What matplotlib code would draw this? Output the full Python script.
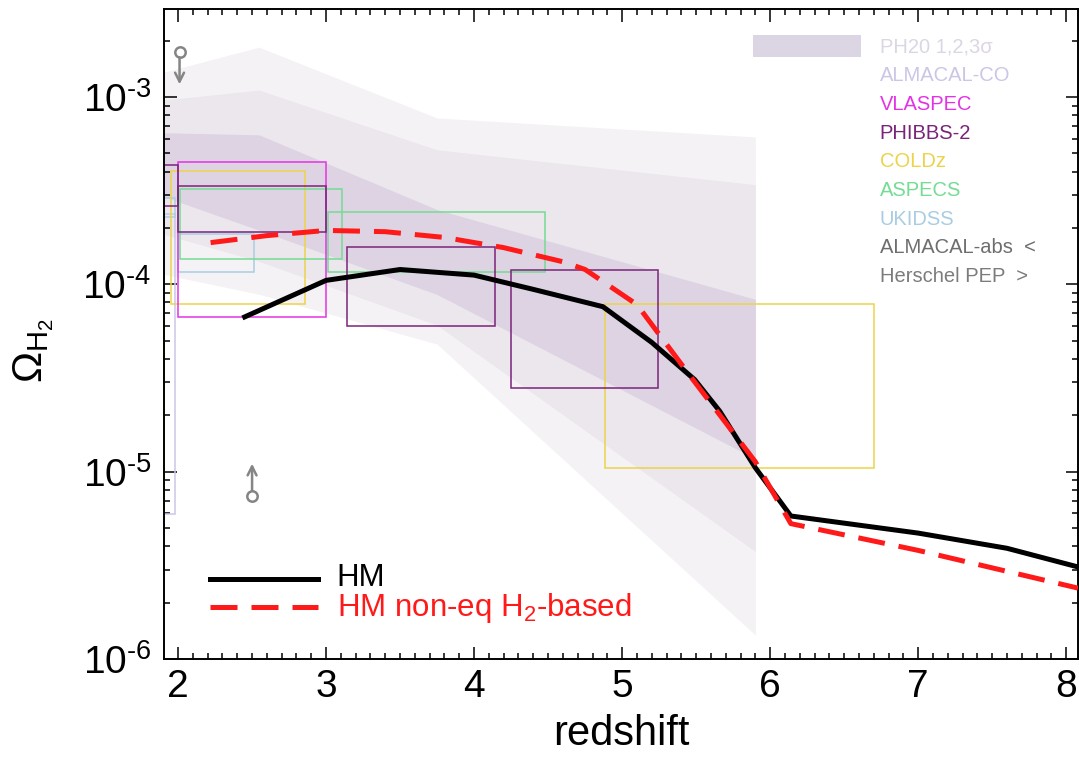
import matplotlib
matplotlib.use('Agg')
import matplotlib.pyplot as plt
from matplotlib.patches import Rectangle
import numpy as np

plt.rcParams['font.family'] = ['Liberation Sans', 'DejaVu Sans']
plt.rcParams['mathtext.fontset'] = 'custom'
plt.rcParams['mathtext.rm'] = 'Liberation Sans'
plt.rcParams['mathtext.it'] = 'Liberation Sans:italic'
plt.rcParams['mathtext.bf'] = 'Liberation Sans:bold'

# ---------------- data ----------------
hm_z = [2.45, 3.0, 3.5, 4.0, 4.4, 4.87, 5.2, 5.49, 5.66, 5.9, 6.14, 7.0, 7.6, 8.08]
hm_omega = [6.7e-5, 1.05e-4, 1.2e-4, 1.12e-4, 9.4e-5, 7.6e-5, 4.9e-5, 3.1e-5, 2.1e-5,
            1.05e-5, 5.8e-6, 4.7e-6, 3.9e-6, 3.1e-6]

noneq_z = [2.22, 2.6, 3.0, 3.4, 3.8, 4.2, 4.6, 4.75, 5.1, 5.46, 5.9, 6.14, 7.0, 8.08]
noneq_omega = [1.67e-4, 1.82e-4, 1.94e-4, 1.91e-4, 1.78e-4, 1.57e-4, 1.32e-4, 1.20e-4,
               7.8e-5, 3.24e-5, 1.13e-5, 5.28e-6, 3.8e-6, 2.39e-6]

# PH20 confidence bands (log10 Omega) at band nodes
band_z = [1.905, 2.547, 3.75, 5.90]
s3_hi = [-2.867, -2.734, -3.112, -3.213]
s2_hi = [-3.016, -2.963, -3.282, -3.468]
s1_hi = [-3.191, -3.202, -3.601, -4.080]
s1_lo = [-3.532, -3.711, -4.054, -4.931]
s2_lo = [-3.733, -3.877, -4.218, -5.426]
s3_lo = [-3.947, -4.053, -4.319, -5.872]

# observational boxes: z0, z1, Omega_lo, Omega_hi
almacal_co_z0 = [1.80]; almacal_co_z1 = [1.98]
almacal_co_lo = [5.98e-6]; almacal_co_hi = [2.36e-4]
vlaspec_z0 = [2.00]; vlaspec_z1 = [3.00]
vlaspec_lo = [6.66e-5]; vlaspec_hi = [4.5e-4]
phibbs_z0 = [1.80, 2.00, 3.14, 4.25]; phibbs_z1 = [2.00, 3.00, 4.14, 5.24]
phibbs_lo = [2.63e-4, 1.91e-4, 5.98e-5, 2.8e-5]; phibbs_hi = [4.35e-4, 3.36e-4, 1.59e-4, 1.2e-4]
coldz_z0 = [1.95, 4.885]; coldz_z1 = [2.86, 6.70]
coldz_lo = [7.9e-5, 1.05e-5]; coldz_hi = [4.04e-4, 7.9e-5]
aspecs_z0 = [2.01, 3.01]; aspecs_z1 = [3.11, 4.48]
aspecs_lo = [1.36e-4, 1.16e-4]; aspecs_hi = [3.24e-4, 2.42e-4]
ukidss_z0 = [1.80, 2.00]; ukidss_z1 = [1.98, 2.51]
ukidss_lo = [2.3e-4, 1.17e-4]; ukidss_hi = [2.9e-4, 1.85e-4]

# limits
almacal_abs_z = [2.01]; almacal_abs_omega = [1.73e-3]   # upper limit
herschel_z = [2.50]; herschel_omega = [7.45e-6]          # lower limit

legend_labels = ['PH20 1,2,3σ', 'ALMACAL-CO', 'VLASPEC', 'PHIBBS-2', 'COLDz', 'ASPECS',
                 'UKIDSS', 'ALMACAL-abs  <', 'Herschel PEP  >']

xticks = [2, 3, 4, 5, 6, 7, 8]
yticks = [1e-6, 1e-5, 1e-4, 1e-3]
ytick_labels = [r'$\mathregular{10^{\text{-6}}}$', r'$\mathregular{10^{\text{-5}}}$',
                r'$\mathregular{10^{\text{-4}}}$', r'$\mathregular{10^{\text{-3}}}$']

# ---------------- style ----------------
c_s3 = '#f4f2f5'
c_s2 = '#ebe7ed'
c_s1 = '#ddd3e3'
c_almacal = '#c9c7e6'
c_vla = '#e433e4'
c_phibbs = '#7a237a'
c_coldz = '#ecd34a'
c_aspecs = '#74dc94'
c_ukidss = '#a9cde2'
c_grey = '#858585'
legend_colors = ['#dcd6e4', c_almacal, c_vla, c_phibbs, c_coldz, c_aspecs, c_ukidss,
                 '#6e6e6e', '#7c7c7c']

fig = plt.figure(figsize=(10.79, 7.66), dpi=100)
ax = fig.add_axes([164/1079, 1-659/766, 914/1079, 650/766])
ax.set_yscale('log')
ax.set_xlim(1.905, 8.08)
ax.set_ylim(1e-6, 2.95e-3)

# bands
bz = np.array(band_z)
for lo, hi, c in [(s3_lo, s3_hi, c_s3), (s2_lo, s2_hi, c_s2), (s1_lo, s1_hi, c_s1)]:
    ax.fill_between(bz, 10**np.array(lo), 10**np.array(hi), color=c, lw=0, zorder=1)

def boxes(z0, z1, lo, hi, color):
    for a, b, l, h in zip(z0, z1, lo, hi):
        ax.add_patch(Rectangle((a, l), b - a, h - l, fill=False, edgecolor=color,
                               lw=1.1, zorder=2))

boxes(almacal_co_z0, almacal_co_z1, almacal_co_lo, almacal_co_hi, c_almacal)
boxes(ukidss_z0, ukidss_z1, ukidss_lo, ukidss_hi, c_ukidss)
boxes(coldz_z0, coldz_z1, coldz_lo, coldz_hi, c_coldz)
boxes(aspecs_z0, aspecs_z1, aspecs_lo, aspecs_hi, c_aspecs)
boxes(vlaspec_z0, vlaspec_z1, vlaspec_lo, vlaspec_hi, c_vla)
boxes(phibbs_z0, phibbs_z1, phibbs_lo, phibbs_hi, c_phibbs)

# limits
ax.plot(almacal_abs_z, almacal_abs_omega, 'o', ms=7.5, mfc='white', mec=c_grey, mew=1.8, zorder=4)
for z, o in zip(almacal_abs_z, almacal_abs_omega):
    ax.annotate('', xy=(z, o), xytext=(0, -23), textcoords='offset points',
                arrowprops=dict(arrowstyle='<-', color=c_grey, lw=1.8, shrinkA=0, shrinkB=3.5,
                                mutation_scale=16), zorder=4)
ax.plot(herschel_z, herschel_omega, 'o', ms=7.5, mfc='white', mec=c_grey, mew=1.8, zorder=4)
for z, o in zip(herschel_z, herschel_omega):
    ax.annotate('', xy=(z, o), xytext=(0, 23), textcoords='offset points',
                arrowprops=dict(arrowstyle='<-', color=c_grey, lw=1.8, shrinkA=0, shrinkB=3.5,
                                mutation_scale=16), zorder=4)

# model lines
ax.plot(hm_z, hm_omega, color='black', lw=3.6, zorder=5, solid_joinstyle='miter')
ax.plot(noneq_z, noneq_omega, color='#ff1a1a', lw=3.6, ls=(0, (5.4, 2.8)), zorder=6)

# observational legend (top right)
ax.add_patch(Rectangle((0.644, 0.926), 0.1186, 0.034, transform=ax.transAxes,
                       color=legend_colors[0], lw=0, zorder=3))
for i, (lab, col) in enumerate(zip(legend_labels, legend_colors)):
    ax.text(0.783, 0.9415 - i*0.04415, lab, color=col, fontsize=14.5,
            transform=ax.transAxes, ha='left', va='center', zorder=7)

# model legend (bottom left)
ax.plot([0.0503, 0.1685], [0.123, 0.123], color='black', lw=3.6, transform=ax.transAxes, zorder=7)
ax.plot([0.0503, 0.1685], [0.080, 0.080], color='#ff1a1a', lw=3.6, ls=(0, (5.4, 2.8)),
        transform=ax.transAxes, zorder=7)
ax.text(0.189, 0.125, 'HM', color='black', fontsize=22.5, transform=ax.transAxes,
        ha='left', va='center', zorder=7)
ax.text(0.189, 0.078, r'HM non-eq H$_\mathregular{2}$-based', color='#ff1a1a', fontsize=22.5,
        transform=ax.transAxes, ha='left', va='center', zorder=7)

# axes styling
ax.set_xticks(xticks)
ax.set_xticklabels([str(t) for t in xticks])
ax.xaxis.set_minor_locator(matplotlib.ticker.MultipleLocator(0.1))
ax.set_yticks(yticks)
ax.set_yticklabels(ytick_labels)
ax.yaxis.set_minor_locator(matplotlib.ticker.LogLocator(base=10, subs=np.arange(2, 10)))
ax.yaxis.set_minor_formatter(matplotlib.ticker.NullFormatter())
ax.tick_params(which='both', direction='in', top=True, right=True, width=1.1, labelsize=28)
ax.tick_params(which='major', length=9)
ax.tick_params(which='minor', length=4.5)
ax.tick_params(axis='x', pad=7)
ax.tick_params(axis='y', pad=9)
for s in ax.spines.values():
    s.set_linewidth(1.4)

ax.set_xlabel('redshift', fontsize=30)
ax.xaxis.set_label_coords(0.5, -0.085)
ax.set_ylabel(r'$\mathregular{\Omega_{H_2}}$', fontsize=30)
ax.yaxis.set_label_coords(-0.118, 0.475)

fig.savefig('out.png', dpi=100)
